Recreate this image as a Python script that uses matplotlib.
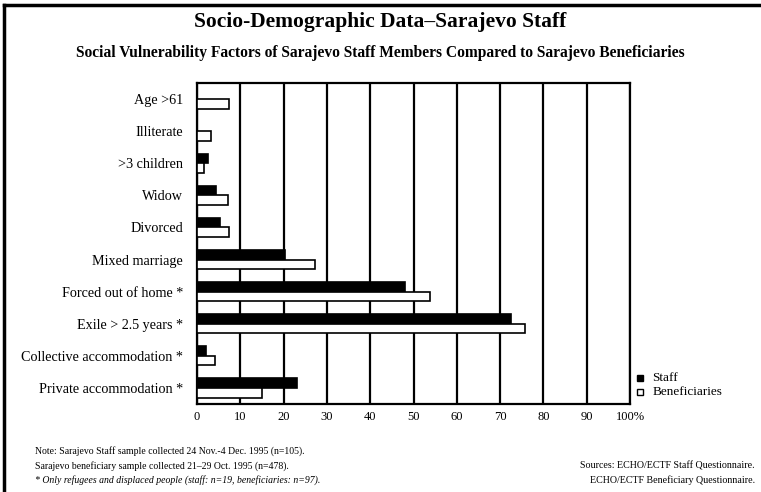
import numpy as np
import matplotlib
matplotlib.use('Agg')
import matplotlib.pyplot as plt
from matplotlib.patches import Rectangle
from matplotlib.lines import Line2D

categories = ['Age >61', 'Illiterate', '>3 children', 'Widow', 'Divorced',
              'Mixed marriage', 'Forced out of home *', 'Exile > 2.5 years *',
              'Collective accommodation *', 'Private accommodation *']
staff = [0, 0, 2.5, 4.3, 5.2, 20.3, 48, 72.6, 2, 23]
beneficiaries = [7.5, 3.2, 1.5, 7.2, 7.5, 27.3, 53.7, 75.7, 4.2, 14.9]
xticks = [0, 10, 20, 30, 40, 50, 60, 70, 80, 90, 100]
xticklabels = ['0', '10', '20', '30', '40', '50', '60', '70', '80', '90', '100%']

plt.rcParams['font.family'] = ['Liberation Serif', 'DejaVu Serif']

fig = plt.figure(figsize=(7.61, 4.92), dpi=100)
ax = fig.add_axes([0.2589, 0.1789, 0.569, 0.6524])

y = np.arange(len(categories))
h = 0.3
ax.barh(y - 0.02, staff, height=h, align='edge', color='black', edgecolor='black',
        linewidth=1.2, zorder=3)
ax.barh(y + 0.28, beneficiaries, height=h, align='edge', color='white',
        edgecolor='black', linewidth=1.2, zorder=3)
ax.set_yticks(y + 0.28)
ax.set_yticklabels(categories, fontsize=10.2)
ax.tick_params(axis='y', length=0, pad=10)
ax.set_ylim(9.5 + 0.28, -0.5 + 0.28)
ax.set_xlim(0, 100)
ax.set_xticks(xticks)
ax.set_xticklabels(xticklabels, fontsize=9)
ax.tick_params(axis='x', length=0, pad=5)
for xv in xticks:
    ax.axvline(xv, color='black', lw=1.6, zorder=1)
for s in ax.spines.values():
    s.set_linewidth(1.6)

# outer frame
fig.add_artist(Line2D([0.005, 0.005], [0, 0.99], color='black', lw=2.5))
fig.add_artist(Line2D([0.005, 1], [0.99, 0.99], color='black', lw=2.5))

fig.text(0.5, 0.955, 'Socio-Demographic Data\u2013Sarajevo Staff', ha='center',
         va='center', fontsize=15.5, fontweight='bold')
fig.text(0.5, 0.893, 'Social Vulnerability Factors of Sarajevo Staff Members Compared to Sarajevo Beneficiaries',
         ha='center', va='center', fontsize=11.2, fontweight='bold')

# legend
fig.add_artist(Rectangle((0.837, 0.225), 0.0085, 0.013, transform=fig.transFigure,
                         facecolor='black', edgecolor='black', lw=1))
fig.text(0.857, 0.232, 'Staff', va='center', fontsize=9.5)
fig.add_artist(Rectangle((0.837, 0.197), 0.0085, 0.013, transform=fig.transFigure,
                         facecolor='white', edgecolor='black', lw=1))
fig.text(0.857, 0.203, 'Beneficiaries', va='center', fontsize=9.5)

fig.text(0.046, 0.083, 'Note: Sarajevo Staff sample collected 24 Nov.-4 Dec. 1995 (n=105).',
         va='center', fontsize=7)
fig.text(0.046, 0.053, 'Sarajevo beneficiary sample collected 21\u201329 Oct. 1995 (n=478).',
         va='center', fontsize=7)
fig.text(0.046, 0.024, '* Only refugees and displaced people (staff: n=19, beneficiaries: n=97).',
         va='center', fontsize=7, style='italic')
fig.text(0.992, 0.053, 'Sources: ECHO/ECTF Staff Questionnaire.', ha='right',
         va='center', fontsize=7.2)
fig.text(0.992, 0.024, 'ECHO/ECTF Beneficiary Questionnaire.', ha='right',
         va='center', fontsize=7.2)

fig.savefig('out.png', dpi=100)
